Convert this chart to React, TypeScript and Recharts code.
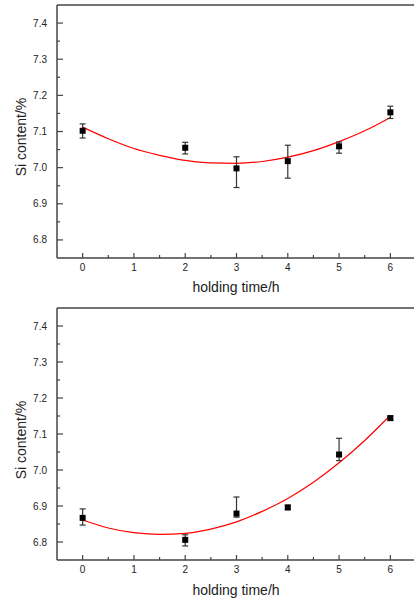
import { ComposedChart, Line, Scatter, XAxis, YAxis, ErrorBar, ReferenceLine } from "recharts";

// measured points (holding time in h, Si content in %)
const holdingTime = [0, 2, 3, 4, 5, 6];

const siTop = [7.102, 7.055, 6.998, 7.018, 7.059, 7.153];
const errLowTop = [0.02, 0.017, 0.053, 0.047, 0.019, 0.017];
const errHighTop = [0.019, 0.015, 0.032, 0.044, 0.012, 0.017];

const siBottom = [6.867, 6.806, 6.879, 6.896, 7.043, 7.144];
const errLowBottom = [0.02, 0.017, 0.01, 0.006, 0.017, 0.006];
const errHighBottom = [0.025, 0.014, 0.046, 0.006, 0.045, 0.006];

// fitted curves
const fitTime = [0, 0.5, 1, 1.5, 2, 2.5, 3, 3.5, 4, 4.5, 5, 5.5, 6];
const fitTop = [7.112, 7.08, 7.053, 7.034, 7.02, 7.013, 7.012, 7.017, 7.029, 7.047, 7.072, 7.102, 7.139];
const fitBottom = [6.861, 6.839, 6.826, 6.821, 6.824, 6.836, 6.856, 6.885, 6.921, 6.966, 7.02, 7.082, 7.152];

const xTicks = [0, 0.5, 1, 1.5, 2, 2.5, 3, 3.5, 4, 4.5, 5, 5.5, 6];
const yTicks = [6.8, 6.85, 6.9, 6.95, 7.0, 7.05, 7.1, 7.15, 7.2, 7.25, 7.3, 7.35, 7.4];

const FONT = "'Liberation Sans', Arial, sans-serif";
const AXIS = "#444";

const toPoints = (si: number[], lo: number[], hi: number[]) =>
  holdingTime.map((x, i) => ({ x, y: si[i], err: [lo[i], hi[i]] }));
const toFit = (ys: number[]) => fitTime.map((x, i) => ({ x, y: ys[i] }));

const YTick = (props: any) => {
  const { x, y, payload } = props;
  const major = Math.round(payload.value * 100) % 10 === 0;
  return (
    <g>
      <line x1={x + 10} x2={x + 10 + (major ? 6 : 3)} y1={y} y2={y} stroke={AXIS} strokeWidth={1.2} />
      {major && (
        <text x={x} y={y} dy="0.35em" textAnchor="end" fontSize={10} fontFamily={FONT} fill="#222">
          {payload.value.toFixed(1)}
        </text>
      )}
    </g>
  );
};

const XTick = (props: any) => {
  const { x, y, payload } = props;
  const major = Number.isInteger(payload.value);
  return (
    <g>
      <line x1={x} x2={x} y1={y - 5} y2={y - 5 - (major ? 5 : 3)} stroke={AXIS} strokeWidth={1.2} />
      {major && (
        <text x={x} y={y} dy="0.75em" textAnchor="middle" fontSize={10} fontFamily={FONT} fill="#222">
          {payload.value}
        </text>
      )}
    </g>
  );
};

const Square = (props: any) => <rect x={props.cx - 3} y={props.cy - 3} width={6} height={6} fill="#000" />;

interface PanelProps {
  points: { x: number; y: number; err: number[] }[];
  fit: { x: number; y: number }[];
  height: number;
  marginTop: number;
  marginBottom: number;
  yLabelY: number;
  xLabelY: number;
}

function Panel({ points, fit, height, marginTop, marginBottom, yLabelY, xLabelY }: PanelProps) {
  return (
    <ComposedChart width={420} height={height} margin={{ top: marginTop, right: 4, bottom: marginBottom, left: 7 }}>
      <XAxis
        type="number"
        dataKey="x"
        domain={[-0.5, 6.5]}
        ticks={xTicks}
        interval={0}
        allowDataOverflow
        height={30}
        tickSize={0}
        tickMargin={5}
        tick={<XTick />}
        axisLine={{ stroke: AXIS, strokeWidth: 1.5 }}
        label={() => (
          <text x={236} y={xLabelY} dy="0.35em" textAnchor="middle" fontSize={14} fontFamily={FONT} fill="#222">
            holding time/h
          </text>
        )}
      />
      <YAxis
        type="number"
        domain={[6.75, 7.45]}
        ticks={yTicks}
        interval={0}
        allowDataOverflow
        width={50}
        tickSize={0}
        tickMargin={10}
        tick={<YTick />}
        axisLine={{ stroke: AXIS, strokeWidth: 1.5 }}
        label={() => (
          <text
            x={21.5}
            y={yLabelY}
            dy="0.35em"
            textAnchor="middle"
            fontSize={14}
            fontFamily={FONT}
            fill="#222"
            transform={`rotate(-90 21.5 ${yLabelY})`}
          >
            Si content/%
          </text>
        )}
      />
      <ReferenceLine y={7.45} stroke={AXIS} strokeWidth={1.5} />
      <Line data={fit} dataKey="y" type="monotone" stroke="#ff0000" strokeWidth={1.2} dot={false} isAnimationActive={false} />
      <Scatter data={points} dataKey="y" shape={<Square />} isAnimationActive={false}>
        <ErrorBar dataKey="err" direction="y" width={3} stroke="#333" strokeWidth={1.2} />
      </Scatter>
    </ComposedChart>
  );
}

export default function App() {
  return (
    <div style={{ position: "absolute", left: 0, top: 0, width: 414, height: 601, overflow: "hidden", background: "#fff" }}>
      <div style={{ position: "absolute", left: 0, top: 0 }}>
        <Panel
          points={toPoints(siTop, errLowTop, errHighTop)}
          fit={toFit(fitTop)}
          height={300}
          marginTop={5}
          marginBottom={12}
          yLabelY={137}
          xLabelY={287}
        />
      </div>
      <div style={{ position: "absolute", left: 0, top: 300 }}>
        <Panel
          points={toPoints(siBottom, errLowBottom, errHighBottom)}
          fit={toFit(fitBottom)}
          height={301}
          marginTop={8}
          marginBottom={11}
          yLabelY={140}
          xLabelY={290}
        />
      </div>
    </div>
  );
}
